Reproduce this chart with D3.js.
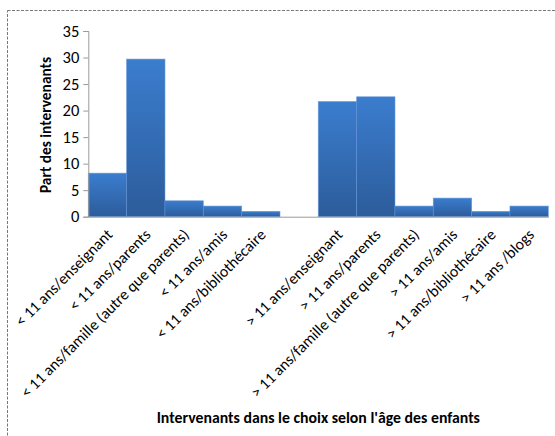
<!DOCTYPE html>
<html>
<head>
<meta charset="utf-8">
<script src="https://cdn.jsdelivr.net/npm/d3@7"></script>
<style>
  html, body { margin: 0; padding: 0; background: #fff; }
  svg { display: block; }
  text { font-family: Carlito, Calibri, Lato, "Open Sans", sans-serif; fill: #000; }
</style>
</head>
<body>
<svg id="chart" width="555" height="436"></svg>
<script>
// Categories (an empty slot separates the two age groups)
const categories = [
  "< 11 ans/enseignant",
  "< 11 ans/parents",
  "< 11 ans/famille (autre que parents)",
  "< 11 ans/amis",
  "< 11 ans/bibliothécaire",
  "",
  "> 11 ans/enseignant",
  "> 11 ans/parents",
  "> 11 ans/famille (autre que parents)",
  "> 11 ans/amis",
  "> 11 ans/bibliothécaire",
  "> 11 ans /blogs"
];
const values = [8.2, 29.7, 3.0, 2.0, 1.0, null, 21.7, 22.6, 2.0, 3.5, 1.0, 2.0];
const yTicks = [0, 5, 10, 15, 20, 25, 30, 35];
const yTitle = "Part des intervenants";
const xTitle = "Intervenants dans le choix selon l'âge des enfants";

const svg = d3.select("#chart");
const margin = { left: 88.3, right: 6.7 };
const W = 555;

// Dashed frame around the chart area
svg.append("rect")
  .attr("x", 7.5).attr("y", 10.5)
  .attr("width", 560).attr("height", 440)
  .attr("fill", "none")
  .attr("stroke", "#777")
  .attr("stroke-width", 1)
  .attr("stroke-dasharray", "3,1.5");

const x = d3.scaleBand()
  .domain(d3.range(categories.length))
  .range([margin.left, W - margin.right])
  .padding(0);

const y = d3.scaleLinear()
  .domain([0, 35])
  .range([216.7, 31]);

// Bar gradient, lighter at the top
const defs = svg.append("defs");
const grad = defs.append("linearGradient")
  .attr("id", "barGrad")
  .attr("x1", 0).attr("y1", 0).attr("x2", 0).attr("y2", 1);
grad.append("stop").attr("offset", "0%").attr("stop-color", "#3b7dce");
grad.append("stop").attr("offset", "100%").attr("stop-color", "#2c5c9b");

const barData = values.map((v, i) => ({ i, v })).filter(d => d.v != null);

svg.append("g")
  .selectAll("rect")
  .data(barData)
  .join("rect")
  .attr("x", d => x(d.i))
  .attr("y", d => y(d.v))
  .attr("width", x.bandwidth())
  .attr("height", d => y(0) - y(d.v))
  .attr("fill", "url(#barGrad)")
  .attr("stroke", "#5d92d6")
  .attr("stroke-opacity", 0.7)
  .attr("stroke-width", 0.8);

// Y axis
const yAxis = d3.axisLeft(y).tickValues(yTicks).tickSize(5).tickPadding(4);
const gy = svg.append("g")
  .attr("transform", `translate(${margin.left},0)`)
  .call(yAxis);
gy.select(".domain").attr("stroke", "#9a9a9a");
gy.selectAll(".tick line").attr("stroke", "#9a9a9a");
gy.selectAll(".tick text")
  .style("font-size", "16.5px")
  .attr("fill", "#000");

// X axis baseline
const gx = svg.append("g")
  .attr("transform", `translate(0,${y(0)})`)
  .call(d3.axisBottom(x).tickSize(0).tickFormat(""));
gx.select(".domain").attr("stroke", "#9a9a9a");

// Rotated category labels
svg.append("g")
  .selectAll("text")
  .data(categories.map((c, i) => ({ c, i })).filter(d => d.c !== ""))
  .join("text")
  .attr("transform", d => `translate(${x(d.i) + x.bandwidth() / 2 + 2},${y(0) + 15}) rotate(-45)`)
  .attr("text-anchor", "end")
  .attr("dy", "0.35em")
  .style("font-size", "15.8px")
  .text(d => d.c);

// Axis titles
svg.append("text")
  .attr("transform", `translate(51,125) rotate(-90)`)
  .attr("text-anchor", "middle")
  .style("font-size", "15.4px")
  .style("font-weight", "bold")
  .text(yTitle);

svg.append("text")
  .attr("x", (margin.left + W - margin.right) / 2)
  .attr("y", 423)
  .attr("text-anchor", "middle")
  .style("font-size", "15.8px")
  .style("font-weight", "bold")
  .text(xTitle);
</script>
</body>
</html>
